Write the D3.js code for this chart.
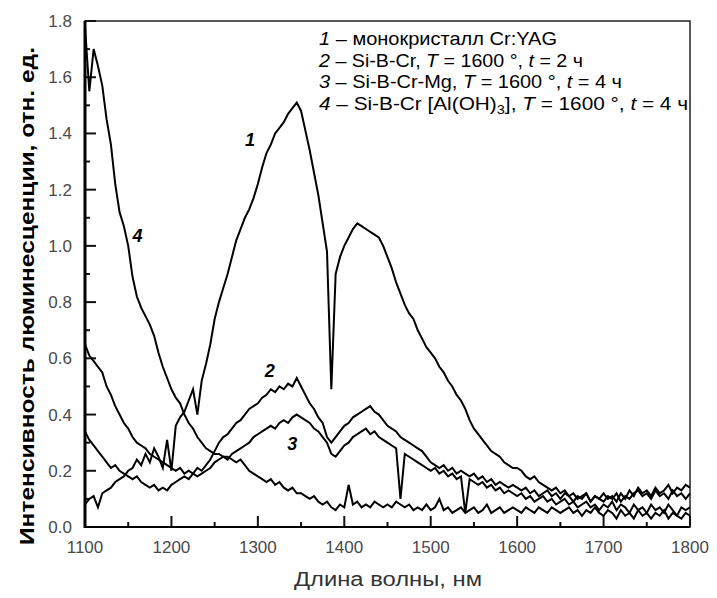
<!DOCTYPE html>
<html>
<head>
<meta charset="utf-8">
<script src="https://cdn.jsdelivr.net/npm/d3@7"></script>
<style>
  body { margin: 0; background: #fff; }
  text { font-family: "Liberation Sans", Arial, sans-serif; }
  .tick-label { fill: #4a4a4a; font-size: 17px; }
</style>
</head>
<body>
<svg width="717" height="598"></svg>
<script>
// wavelength grid, nm (5 nm step)
const wavelengths = d3.range(1100, 1801, 5);

// 1 – monocrystal Cr:YAG
const s1 = [
  0.08, 0.10, 0.11, 0.07, 0.12, 0.13, 0.14, 0.16, 0.17, 0.18,
  0.20, 0.21, 0.24, 0.22, 0.26, 0.23, 0.28, 0.25, 0.21, 0.31,
  0.20, 0.36, 0.39, 0.41, 0.45, 0.49, 0.40, 0.52, 0.58, 0.65,
  0.74, 0.80, 0.85, 0.90, 0.96, 1.02, 1.06, 1.10, 1.13, 1.17,
  1.22, 1.28, 1.33, 1.36, 1.40, 1.42, 1.44, 1.47, 1.49, 1.51,
  1.48, 1.41, 1.34, 1.26, 1.18, 1.08, 0.98, 0.49, 0.90, 0.96,
  1.00, 1.03, 1.06, 1.08, 1.07, 1.06, 1.05, 1.04, 1.03, 1.00,
  0.96, 0.92, 0.87, 0.83, 0.79, 0.76, 0.74, 0.70, 0.67, 0.64,
  0.62, 0.60, 0.57, 0.55, 0.52, 0.50, 0.47, 0.45, 0.42, 0.38,
  0.35, 0.33, 0.31, 0.29, 0.27, 0.26, 0.25, 0.23, 0.22, 0.21,
  0.21, 0.20, 0.18, 0.17, 0.18, 0.16, 0.15, 0.14, 0.13, 0.14,
  0.12, 0.13, 0.11, 0.12, 0.10, 0.11, 0.12, 0.09, 0.11, 0.10,
  0.12, 0.10, 0.11, 0.09, 0.12, 0.10, 0.13, 0.11, 0.14, 0.12,
  0.13, 0.11, 0.14, 0.12, 0.13, 0.15, 0.12, 0.14, 0.13, 0.15,
  0.14
];

// 2 – Si-B-Cr, 1600°, 2 h
const s2 = [
  0.65, 0.61, 0.59, 0.57, 0.55, 0.50, 0.47, 0.43, 0.40, 0.37,
  0.35, 0.32, 0.30, 0.29, 0.28, 0.26, 0.25, 0.24, 0.23, 0.22,
  0.21, 0.20, 0.21, 0.19, 0.20, 0.19, 0.21, 0.20, 0.22, 0.24,
  0.27, 0.30, 0.32, 0.33, 0.35, 0.37, 0.38, 0.40, 0.42, 0.43,
  0.44, 0.46, 0.47, 0.49, 0.48, 0.50, 0.49, 0.51, 0.50, 0.53,
  0.50, 0.47, 0.44, 0.42, 0.39, 0.37, 0.32, 0.30, 0.32, 0.34,
  0.36, 0.37, 0.39, 0.40, 0.41, 0.42, 0.43, 0.41, 0.40, 0.38,
  0.36, 0.35, 0.34, 0.32, 0.31, 0.30, 0.29, 0.28, 0.27, 0.25,
  0.23, 0.22, 0.21, 0.22, 0.20, 0.21, 0.19, 0.20, 0.19, 0.18,
  0.19, 0.17, 0.18, 0.16, 0.17, 0.15, 0.16, 0.15, 0.14, 0.15,
  0.14, 0.13, 0.14, 0.12, 0.13, 0.11, 0.12, 0.13, 0.11, 0.12,
  0.10, 0.12, 0.11, 0.09, 0.11, 0.10, 0.12, 0.09, 0.11, 0.10,
  0.09, 0.11, 0.10, 0.12, 0.09, 0.11, 0.10, 0.12, 0.13, 0.11,
  0.12, 0.10, 0.13, 0.11, 0.12, 0.10, 0.13, 0.11, 0.12, 0.10,
  0.12
];

// 3 – Si-B-Cr-Mg, 1600°, 4 h
const s3 = [
  0.34, 0.31, 0.29, 0.27, 0.25, 0.23, 0.21, 0.22, 0.20, 0.19,
  0.18, 0.17, 0.18, 0.16, 0.15, 0.14, 0.15, 0.13, 0.14, 0.13,
  0.15, 0.16, 0.17, 0.18, 0.17, 0.19, 0.18, 0.19, 0.20, 0.21,
  0.23, 0.24, 0.25, 0.24, 0.26, 0.27, 0.28, 0.29, 0.30, 0.32,
  0.33, 0.34, 0.35, 0.36, 0.35, 0.37, 0.38, 0.37, 0.39, 0.40,
  0.39, 0.38, 0.37, 0.35, 0.34, 0.32, 0.30, 0.26, 0.25, 0.27,
  0.29, 0.30, 0.32, 0.33, 0.34, 0.35, 0.33, 0.34, 0.32, 0.31,
  0.30, 0.29, 0.28, 0.10, 0.26, 0.25, 0.24, 0.23, 0.22, 0.21,
  0.20, 0.21, 0.19, 0.20, 0.18, 0.19, 0.17, 0.18, 0.05, 0.17,
  0.16, 0.15, 0.16, 0.14, 0.15, 0.13, 0.14, 0.12, 0.13, 0.12,
  0.11, 0.12, 0.10, 0.11, 0.09, 0.10, 0.11, 0.09, 0.10, 0.08,
  0.09, 0.10, 0.08, 0.09, 0.07, 0.08, 0.09, 0.07, 0.08, 0.06,
  0.08, 0.07, 0.09, 0.06, 0.08, 0.07, 0.05, 0.08, 0.06, 0.07,
  0.05, 0.08, 0.06, 0.07, 0.05, 0.08, 0.06, 0.04, 0.07, 0.06,
  0.07
];

// 4 – Si-B-Cr [Al(OH)3], 1600°, 4 h
const s4 = [
  1.78, 1.55, 1.70, 1.64, 1.57, 1.45, 1.36, 1.22, 1.12, 1.07,
  1.00, 0.89, 0.82, 0.78, 0.75, 0.72, 0.68, 0.62, 0.57, 0.53,
  0.49, 0.46, 0.44, 0.40, 0.37, 0.35, 0.32, 0.30, 0.28, 0.27,
  0.26, 0.26, 0.25, 0.25, 0.24, 0.23, 0.24, 0.22, 0.20, 0.19,
  0.18, 0.17, 0.16, 0.17, 0.15, 0.16, 0.14, 0.13, 0.14, 0.12,
  0.12, 0.11, 0.10, 0.11, 0.09, 0.08, 0.09, 0.07, 0.06, 0.08,
  0.07, 0.15, 0.08, 0.09, 0.07, 0.08, 0.07, 0.09, 0.08, 0.07,
  0.08, 0.07, 0.09, 0.08, 0.07, 0.08, 0.06, 0.07, 0.06, 0.08,
  0.06, 0.07, 0.10, 0.06, 0.07, 0.05, 0.06, 0.07, 0.05, 0.06,
  0.07, 0.05, 0.06, 0.08, 0.05, 0.06, 0.07, 0.05, 0.06, 0.07,
  0.06, 0.05, 0.07, 0.06, 0.05, 0.07, 0.06, 0.05, 0.07, 0.06,
  0.05, 0.06, 0.07, 0.05, 0.06, 0.04, 0.06, 0.05, 0.07, 0.05,
  0.04, 0.06, 0.05, 0.03, 0.06, 0.04, 0.05, 0.03, 0.06, 0.04,
  0.05, 0.03, 0.05, 0.04, 0.06, 0.03, 0.05, 0.04, 0.03, 0.05,
  0.04
];

const xTicks = [1100, 1200, 1300, 1400, 1500, 1600, 1700, 1800];
const xMinor = [1150, 1250, 1350, 1450, 1550, 1650, 1750];
const yTicks = [0, 0.2, 0.4, 0.6, 0.8, 1.0, 1.2, 1.4, 1.6, 1.8];
const yMinor = [0.1, 0.3, 0.5, 0.7, 0.9, 1.1, 1.3, 1.5, 1.7];

const legendLines = [
  ["1", " – монокристалл Cr:YAG"],
  ["2", " – Si-B-Cr, ", "T", " = 1600 °, ", "t", " = 2 ч"],
  ["3", " – Si-B-Cr-Mg, ", "T", " = 1600 °, ", "t", " = 4 ч"],
  ["4", " – Si-B-Cr [Al(OH)", "3", "], ", "T", " = 1600 °, ", "t", " = 4 ч"]
];
const legendEnds = [557, 583, 622, 688];

const curveLabels = [
  { id: "1", wl: 1285, v: 1.356 },
  { id: "4", wl: 1155, v: 1.014 },
  { id: "2", wl: 1308, v: 0.534 },
  { id: "3", wl: 1334, v: 0.274 }
];

const svg = d3.select("svg");
const plotL = 85, plotR = 690, plotT = 21, plotB = 527;

const x = d3.scaleLinear().domain([1100, 1800]).range([plotL, plotR]);
const y = d3.scaleLinear().domain([0, 1.8]).range([plotB, plotT]);

// frame
svg.append("rect")
  .attr("x", plotL).attr("y", plotT)
  .attr("width", plotR - plotL).attr("height", plotB - plotT)
  .attr("fill", "none").attr("stroke", "#222").attr("stroke-width", 1.5);

// inward ticks
const tickG = svg.append("g");
tickG.selectAll("line.xt")
  .data(xTicks.map(v => [v, 11]).concat(xMinor.map(v => [v, 5])))
  .enter().append("line")
  .attr("class", "xt")
  .attr("x1", d => x(d[0])).attr("x2", d => x(d[0]))
  .attr("y1", plotB).attr("y2", d => plotB - d[1])
  .attr("stroke", "#111").attr("stroke-width", 2);
tickG.selectAll("line.yt")
  .data(yTicks.map(v => [v, 11]).concat(yMinor.map(v => [v, 5])))
  .enter().append("line")
  .attr("class", "yt")
  .attr("x1", plotL).attr("x2", d => plotL + d[1])
  .attr("y1", d => y(d[0])).attr("y2", d => y(d[0]))
  .attr("stroke", "#111").attr("stroke-width", 2);

svg.append("line")
  .attr("x1", plotL).attr("x2", plotL).attr("y1", plotT).attr("y2", plotB + 1)
  .attr("stroke", "#000").attr("stroke-width", 3);
svg.append("line")
  .attr("x1", plotL).attr("x2", plotR).attr("y1", plotB).attr("y2", plotB)
  .attr("stroke", "#000").attr("stroke-width", 2);

// tick labels
svg.append("g").selectAll("text")
  .data(xTicks).enter().append("text")
  .attr("class", "tick-label")
  .attr("x", d => x(d)).attr("y", plotB + 26)
  .attr("text-anchor", "middle")
  .text(d => d);

svg.append("g").selectAll("text")
  .data(yTicks).enter().append("text")
  .attr("class", "tick-label")
  .attr("x", plotL - 13).attr("y", d => y(d) + 6)
  .attr("text-anchor", "end")
  .text(d => d.toFixed(1));

// curves
const line = d3.line()
  .x((d, i) => x(wavelengths[i]))
  .y(d => y(d));

svg.append("g").selectAll("path")
  .data([s4, s3, s2, s1]).enter().append("path")
  .attr("d", line)
  .attr("fill", "none")
  .attr("stroke", "#000")
  .attr("stroke-width", 2)
  .attr("stroke-linejoin", "miter");

// curve labels
svg.append("g").selectAll("text")
  .data(curveLabels).enter().append("text")
  .attr("x", d => x(d.wl)).attr("y", d => y(d.v))
  .attr("font-size", 18).attr("font-weight", "bold").attr("font-style", "italic")
  .text(d => d.id);

// legend
const legend = svg.append("g");
legendLines.forEach((parts, i) => {
  const t = legend.append("text")
    .attr("x", 319).attr("y", 45 + i * 21.7)
    .attr("font-size", 18.5).attr("fill", "#000")
    .attr("textLength", legendEnds[i] - 319)
    .attr("lengthAdjust", "spacingAndGlyphs");
  parts.forEach((p, j) => {
    const ts = t.append("tspan").text(p);
    const italic = j === 0 || p === "T" || p === "t";
    if (italic) ts.attr("font-style", "italic");
    if (i === 3 && j === 2) ts.attr("font-size", 13).attr("dy", 4);
    if (i === 3 && j === 3) ts.attr("dy", -4);
  });
});

// axis titles
svg.append("text")
  .attr("transform", `translate(34,296) rotate(-90)`)
  .attr("text-anchor", "middle")
  .attr("font-size", 21).attr("font-weight", "bold")
  .attr("textLength", 498).attr("lengthAdjust", "spacingAndGlyphs")
  .text("Интенсивность люминесценции, отн. ед.");

svg.append("text")
  .attr("x", 388).attr("y", 586)
  .attr("text-anchor", "middle")
  .attr("font-size", 20).attr("fill", "#333")
  .attr("textLength", 188).attr("lengthAdjust", "spacingAndGlyphs")
  .text("Длина волны, нм");
</script>
</body>
</html>
